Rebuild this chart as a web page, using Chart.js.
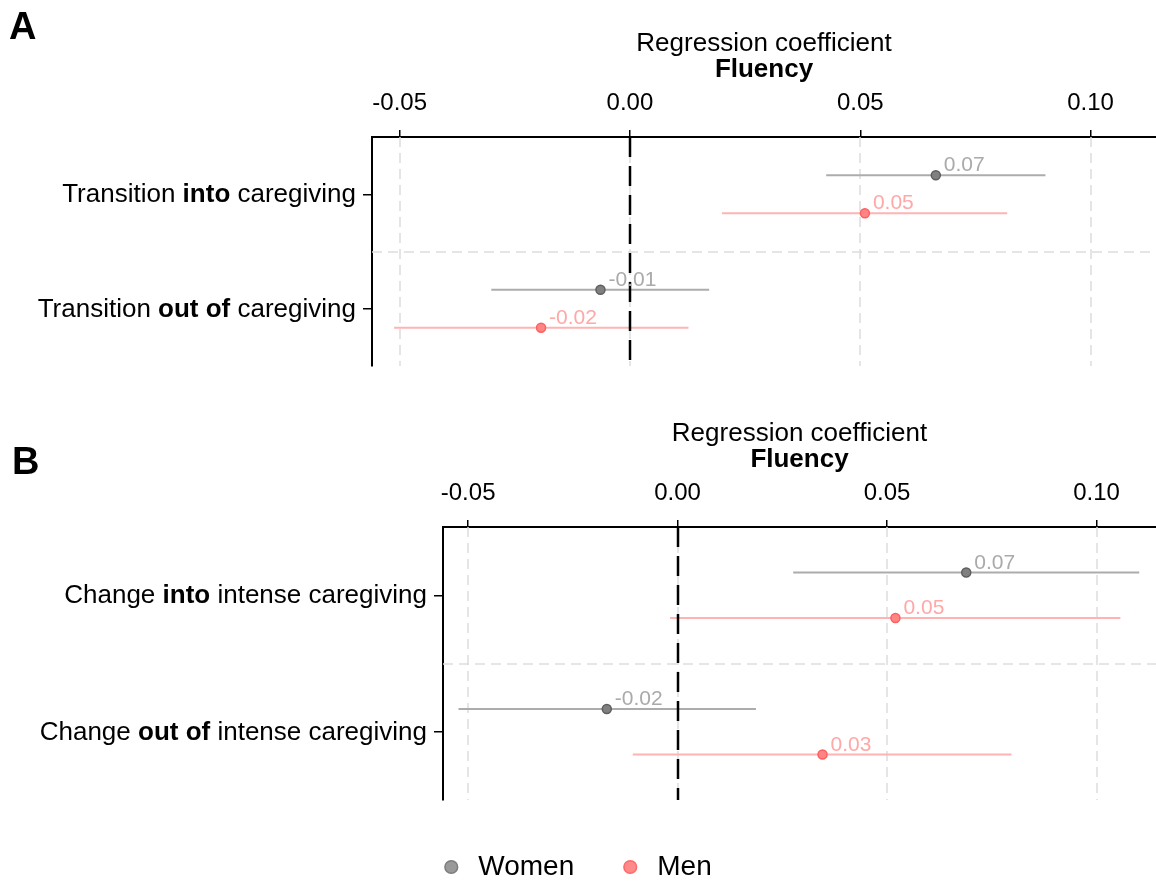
<!DOCTYPE html>
<html>
<head>
<meta charset="utf-8">
<script src="https://cdn.jsdelivr.net/npm/chart.js@4.4.0/dist/chart.umd.min.js"></script>
<style>
  html, body { margin: 0; padding: 0; background: #fff; overflow: hidden; }
  #wrap { position: relative; width: 1156px; height: 881px; overflow: hidden; background: #fff; }
  #chartA { position: absolute; left: 0; top: 0; }
  #chartB { position: absolute; left: -6px; top: 390px; }
</style>
</head>
<body>
<div id="wrap">
  <canvas id="chartA" width="1156" height="390" style="width:1156px;height:390px"></canvas>
  <canvas id="chartB" width="1162" height="501" style="width:1162px;height:501px"></canvas>
</div>
<script>
// shared x axis
const xTicks = [-0.05, 0, 0.05, 0.10];
const xMin = -0.056;
const xMax = 0.1142;

// panel A: transitions
const catsA = [["Transition ", "into", " caregiving"], ["Transition ", "out of", " caregiving"]];
const womenEstA = [0.0664, -0.0064];
const womenLoA = [0.0426, -0.0301];
const womenHiA = [0.0902, 0.0172];
const menEstA = [0.0510, -0.0193];
const menLoA = [0.0200, -0.0512];
const menHiA = [0.0819, 0.0127];

// panel B: intense caregiving
const catsB = [["Change ", "into", " intense caregiving"], ["Change ", "out of", " intense caregiving"]];
const womenEstB = [0.0689, -0.0169];
const womenLoB = [0.0276, -0.0523];
const womenHiB = [0.1102, 0.0187];
const menEstB = [0.0520, 0.0346];
const menLoB = [-0.0018, -0.0107];
const menHiB = [0.1057, 0.0797];

const groups = ["Women", "Men"];

const FONT = "'Liberation Sans', Arial, Helvetica, sans-serif";
Chart.defaults.font.family = FONT;
Chart.defaults.color = "#000";

const DODGE = 1 / 6;

function points(est, lo, hi, off) {
  return est.map((v, i) => ({ x: v, y: i + 1 + off, lo: lo[i], hi: hi[i] }));
}

function hline(ctx, x1, y1, x2, y2) {
  ctx.beginPath();
  ctx.moveTo(x1, y1);
  ctx.lineTo(x2, y2);
  ctx.stroke();
}

// grid, separator, error bars, zero line, labels, titles
const forestPlugin = {
  id: "forest",
  beforeDatasetsDraw(chart, args, opts) {
    const { ctx, chartArea: a } = chart;
    const x = chart.scales.x, y = chart.scales.y;
    ctx.save();
    ctx.beginPath();
    ctx.rect(a.left, a.top, a.right - a.left, a.bottom - a.top);
    ctx.clip();

    ctx.strokeStyle = "#dddddd";
    ctx.lineWidth = 1.5;
    ctx.setLineDash([10, 6]);
    xTicks.forEach(v => {
      const px = Math.round(x.getPixelForValue(v));
      hline(ctx, px, a.top, px, a.bottom);
    });
    for (let i = 1; i < opts.cats.length; i++) {
      const py = Math.round(y.getPixelForValue(i + 0.5));
      hline(ctx, a.left, py, a.right, py);
    }

    ctx.setLineDash([]);
    ctx.lineWidth = 2;
    chart.data.datasets.forEach(ds => {
      ctx.strokeStyle = ds.ciColor;
      ds.data.forEach(p => {
        const py = y.getPixelForValue(p.y);
        hline(ctx, x.getPixelForValue(p.lo), py, x.getPixelForValue(p.hi), py);
      });
    });

    ctx.strokeStyle = "#000";
    ctx.lineWidth = 2.5;
    ctx.setLineDash([20, 9]);
    const z = Math.round(x.getPixelForValue(0));
    hline(ctx, z, a.top, z, a.bottom);
    ctx.restore();
  },
  afterDatasetsDraw(chart) {
    const { ctx } = chart;
    const x = chart.scales.x, y = chart.scales.y;
    ctx.save();
    ctx.font = "21px " + FONT;
    ctx.textAlign = "left";
    ctx.textBaseline = "alphabetic";
    chart.data.datasets.forEach(ds => {
      ctx.fillStyle = ds.textColor;
      ds.data.forEach(p => {
        ctx.fillText(p.x.toFixed(2), x.getPixelForValue(p.x) + 8, y.getPixelForValue(p.y) - 4);
      });
    });
    ctx.restore();
  },
  afterDraw(chart, args, opts) {
    const { ctx, chartArea: a } = chart;
    const y = chart.scales.y;
    ctx.save();
    // category labels with a bold middle part
    ctx.fillStyle = "#000";
    ctx.textBaseline = "middle";
    ctx.textAlign = "left";
    const fonts = ["26px " + FONT, "bold 26px " + FONT, "26px " + FONT];
    opts.cats.forEach((parts, i) => {
      const widths = parts.map((t, k) => { ctx.font = fonts[k]; return ctx.measureText(t).width; });
      let px = a.left - 16 - widths.reduce((s, w) => s + w, 0);
      const py = y.getPixelForValue(i + 1) + 1;
      parts.forEach((t, k) => {
        ctx.font = fonts[k];
        ctx.fillText(t, px, py);
        px += widths[k];
      });
    });
    // axis title
    const cx = (a.left + a.right) / 2;
    ctx.textAlign = "center";
    ctx.font = "26px " + FONT;
    ctx.fillText("Regression coefficient", cx, 44);
    ctx.font = "bold 26px " + FONT;
    ctx.fillText("Fluency", cx, 70);
    // panel letter
    ctx.textAlign = "left";
    ctx.textBaseline = "alphabetic";
    ctx.font = "bold 38px " + FONT;
    ctx.fillText(opts.letter, opts.letterX, opts.letterY);
    ctx.restore();
  }
};

function makeChart(id, cats, wEst, wLo, wHi, mEst, mLo, mHi, yWidth, letter, letterX, letterY, withLegend) {
  const scales = {
    x: {
      type: "linear",
      position: "top",
      min: xMin,
      max: xMax,
      afterBuildTicks: s => { s.ticks = xTicks.map(v => ({ value: v })); },
      afterFit: s => { s.height = 137; },
      ticks: {
        callback: v => v.toFixed(2),
        font: { size: 24 },
        color: "#000",
        padding: 12,
        maxRotation: 0
      },
      grid: { drawOnChartArea: false, tickLength: 7, color: "#000", lineWidth: 1.5 },
      border: { display: true, color: "#000", width: 2 }
    },
    y: {
      type: "linear",
      min: 0.5,
      max: 2.5,
      reverse: true,
      afterBuildTicks: s => { s.ticks = cats.map((c, i) => ({ value: i + 1 })); },
      afterFit: s => { s.width = yWidth; },
      ticks: { callback: () => "", padding: 0 },
      grid: { drawOnChartArea: false, tickLength: 9, color: "#000", lineWidth: 1.5 },
      border: { display: true, color: "#000", width: 2 }
    }
  };
  if (withLegend) {
    scales.gap = {
      type: "linear",
      position: "bottom",
      display: true,
      ticks: { display: false },
      grid: { display: false },
      border: { display: false },
      afterFit: s => { s.height = 10; }
    };
  }
  return new Chart(document.getElementById(id), {
    type: "scatter",
    data: {
      datasets: [
        {
          label: groups[0],
          data: points(wEst, wLo, wHi, -DODGE),
          backgroundColor: "#808080",
          borderColor: "#5e5e5e",
          borderWidth: 1.5,
          pointRadius: 4.5,
          ciColor: "#acacac",
          textColor: "#aaaaaa"
        },
        {
          label: groups[1],
          data: points(mEst, mLo, mHi, DODGE),
          backgroundColor: "#ff8585",
          borderColor: "#ff5e5e",
          borderWidth: 1.5,
          pointRadius: 4.5,
          ciColor: "#ffb3b3",
          textColor: "#ffa8a8"
        }
      ]
    },
    options: {
      responsive: false,
      animation: false,
      layout: { autoPadding: false, padding: { left: 0, right: 0, top: 0, bottom: withLegend ? 0 : 24 } },
      scales: scales,
      plugins: {
        tooltip: { enabled: false },
        legend: {
          display: withLegend,
          position: "bottom",
          labels: {
            usePointStyle: true,
            boxWidth: 26,
            boxHeight: 9,
            padding: 43,
            font: { size: 28 },
            color: "#000",
            generateLabels: () => [
              { text: groups[0], fillStyle: "#999999", strokeStyle: "#7d7d7d", lineWidth: 1.5, pointStyle: "circle", hidden: false, datasetIndex: 0 },
              { text: groups[1], fillStyle: "#ff8a8a", strokeStyle: "#ff6a6a", lineWidth: 1.5, pointStyle: "circle", hidden: false, datasetIndex: 1 }
            ]
          }
        },
        forest: { cats: cats, letter: letter, letterX: letterX, letterY: letterY }
      }
    },
    plugins: [forestPlugin]
  });
}

makeChart("chartA", catsA, womenEstA, womenLoA, womenHiA, menEstA, menLoA, menHiA, 372, "A", 9, 39, false);
makeChart("chartB", catsB, womenEstB, womenLoB, womenHiB, menEstB, menLoB, menHiB, 449, "B", 18, 84, true);
</script>
</body>
</html>
